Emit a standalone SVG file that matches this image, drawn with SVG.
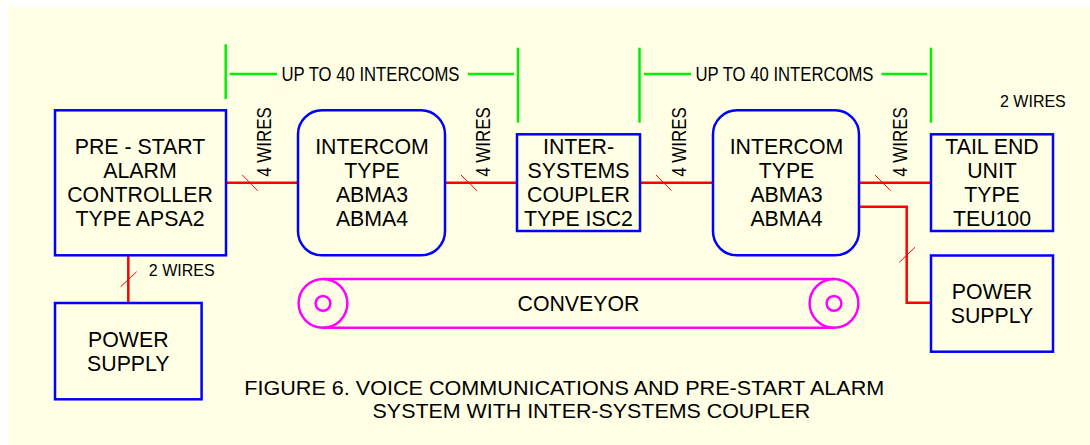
<svg xmlns="http://www.w3.org/2000/svg" width="1090" height="445" viewBox="0 0 1090 445">
<style>
.bx{fill:none;stroke:#0000FF;stroke-width:2.5}
.w{fill:none;stroke:#FF0000;stroke-width:2.5}
.tk{fill:none;stroke:#FF0000;stroke-width:1}
.g{fill:none;stroke:#00F000;stroke-width:2.5}
.cv{fill:none;stroke:#FF00FF;stroke-width:2.5}
text{font-family:"Liberation Sans",Arial,sans-serif;fill:#000}
.t{font-size:21.3px;text-anchor:middle}
.lb{font-size:20px}
.s{font-size:16px}
</style>
<rect x="8" y="7" width="1082" height="438" fill="#FFFFE6"/>

<g id="connectors">
  <line class="w" x1="226" y1="182.7" x2="298" y2="182.7"/>
  <line class="tk" x1="242.3" y1="175" x2="257.7" y2="190.7"/>
  <line class="w" x1="445" y1="182.7" x2="517" y2="182.7"/>
  <line class="tk" x1="461" y1="175" x2="477" y2="190.7"/>
  <line class="w" x1="640" y1="182.7" x2="713" y2="182.7"/>
  <line class="tk" x1="656" y1="175" x2="671.5" y2="190.7"/>
  <line class="w" x1="859" y1="182.7" x2="931" y2="182.7"/>
  <line class="tk" x1="875" y1="175" x2="890.5" y2="190.7"/>
  <polyline class="w" points="859,206.7 906.7,206.7 906.7,302.7 931,302.7"/>
  <line class="tk" x1="899.3" y1="262.3" x2="915" y2="247.3"/>
  <line class="w" x1="128.3" y1="255" x2="128.3" y2="303"/>
  <line class="tk" x1="120.7" y1="286.7" x2="136.7" y2="271.7"/>
  <text class="lb" transform="translate(271,176.7) rotate(-90)" textLength="69.4" lengthAdjust="spacingAndGlyphs">4 WIRES</text>
  <text class="lb" transform="translate(490,176.7) rotate(-90)" textLength="69.4" lengthAdjust="spacingAndGlyphs">4 WIRES</text>
  <text class="lb" transform="translate(686,176.7) rotate(-90)" textLength="69.4" lengthAdjust="spacingAndGlyphs">4 WIRES</text>
  <text class="lb" transform="translate(906.5,176.7) rotate(-90)" textLength="69.4" lengthAdjust="spacingAndGlyphs">4 WIRES</text>
  <text class="s" x="148.8" y="276">2 WIRES</text>
  <text class="s" x="1000" y="106.7">2 WIRES</text>
</g>

<g id="span1">
  <line class="g" x1="225.7" y1="44.3" x2="225.7" y2="99"/>
  <line class="g" x1="518" y1="47.7" x2="518" y2="122.7"/>
  <line class="g" x1="229.7" y1="74" x2="277" y2="74"/>
  <line class="g" x1="468" y1="74" x2="514" y2="74"/>
  <text class="lb" x="281.5" y="81" textLength="178" lengthAdjust="spacingAndGlyphs">UP TO 40 INTERCOMS</text>
</g>
<g id="span2">
  <line class="g" x1="639.5" y1="47.7" x2="639.5" y2="122.7"/>
  <line class="g" x1="931" y1="47.7" x2="931" y2="122.7"/>
  <line class="g" x1="644" y1="74" x2="691" y2="74"/>
  <line class="g" x1="881.5" y1="74" x2="927" y2="74"/>
  <text class="lb" x="695.5" y="81" textLength="178" lengthAdjust="spacingAndGlyphs">UP TO 40 INTERCOMS</text>
</g>

<g id="apsa2">
  <rect class="bx" x="55" y="110.3" width="171" height="145"/>
  <text class="t" x="140" y="154">PRE - START</text>
  <text class="t" x="140" y="177.7">ALARM</text>
  <text class="t" x="140" y="202">CONTROLLER</text>
  <text class="t" x="140" y="226">TYPE APSA2</text>
</g>
<g id="intercom1">
  <rect class="bx" x="298" y="110.3" width="147" height="145" rx="24" ry="24"/>
  <text class="t" x="372" y="154">INTERCOM</text>
  <text class="t" x="372" y="177.7">TYPE</text>
  <text class="t" x="372" y="202">ABMA3</text>
  <text class="t" x="372" y="226">ABMA4</text>
</g>
<g id="isc2">
  <rect class="bx" x="517" y="134.3" width="123" height="96.7"/>
  <text class="t" x="578.5" y="154">INTER-</text>
  <text class="t" x="578.5" y="177.7">SYSTEMS</text>
  <text class="t" x="578.5" y="202">COUPLER</text>
  <text class="t" x="578.5" y="226">TYPE ISC2</text>
</g>
<g id="intercom2">
  <rect class="bx" x="713" y="110.3" width="146" height="145" rx="24" ry="24"/>
  <text class="t" x="786.5" y="154">INTERCOM</text>
  <text class="t" x="786.5" y="177.7">TYPE</text>
  <text class="t" x="786.5" y="202">ABMA3</text>
  <text class="t" x="786.5" y="226">ABMA4</text>
</g>
<g id="teu100">
  <rect class="bx" x="931" y="134.3" width="122" height="96.7"/>
  <text class="t" x="992" y="154">TAIL END</text>
  <text class="t" x="992" y="177.7">UNIT</text>
  <text class="t" x="992" y="202">TYPE</text>
  <text class="t" x="992" y="226">TEU100</text>
</g>
<g id="power1">
  <rect class="bx" x="55" y="303" width="146.6" height="96.3"/>
  <text class="t" x="128.3" y="347.3">POWER</text>
  <text class="t" x="128.3" y="370.7">SUPPLY</text>
</g>
<g id="power2">
  <rect class="bx" x="931" y="255.5" width="122" height="96.2"/>
  <text class="t" x="992" y="299">POWER</text>
  <text class="t" x="992" y="322.7">SUPPLY</text>
</g>
<g id="conveyor">
  <circle class="cv" cx="323" cy="303.3" r="24.4"/>
  <circle class="cv" cx="323" cy="303.3" r="7.4"/>
  <circle class="cv" cx="834" cy="303.3" r="24.4"/>
  <circle class="cv" cx="834" cy="303.3" r="7.4"/>
  <line class="cv" x1="323" y1="278.9" x2="834" y2="278.9"/>
  <line class="cv" x1="323" y1="327.7" x2="834" y2="327.7"/>
  <text class="t" x="578.5" y="310.7">CONVEYOR</text>
</g>
<g id="caption">
  <text style="font-size:21px" x="244.3" y="395" textLength="640" lengthAdjust="spacingAndGlyphs">FIGURE 6. VOICE COMMUNICATIONS AND PRE-START ALARM</text>
  <text style="font-size:21px" x="372.6" y="418.3" textLength="437.6" lengthAdjust="spacingAndGlyphs">SYSTEM WITH INTER-SYSTEMS COUPLER</text>
</g>
</svg>
